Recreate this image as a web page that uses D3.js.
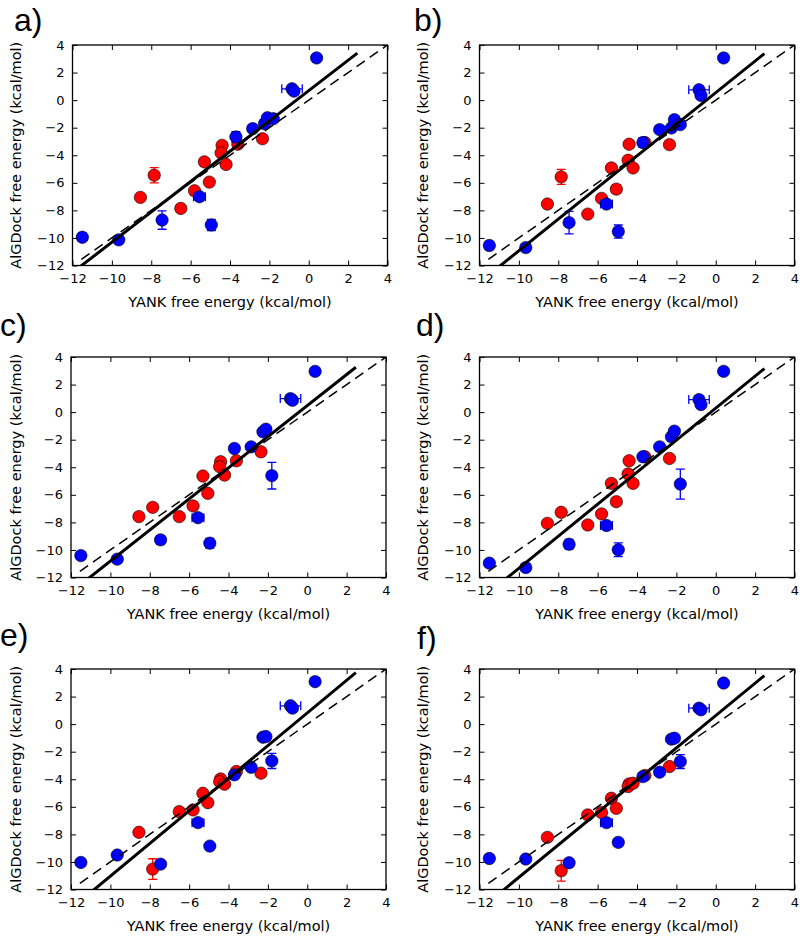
<!DOCTYPE html>
<html>
<head>
<meta charset="utf-8">
<script src="https://cdn.jsdelivr.net/npm/d3@7"></script>
<style>
  html, body { margin: 0; padding: 0; background: #ffffff; }
  svg { display: block; }
</style>
</head>
<body>
<script>
// ---------------- DATA ----------------
const panelNames = ["a", "b", "c", "d", "e", "f"];
const tickValues = [-12, -10, -8, -6, -4, -2, 0, 2, 4];
const xLabel = "YANK free energy (kcal/mol)";
const yLabel = "AlGDock free energy (kcal/mol)";

// YANK free energies (x) – shared by all panels
const blueX = [-11.5, -9.65, -7.45, -5.55, -4.95, -3.7, -2.85, -2.25, -2.1, -1.8, -0.85, -0.75, 0.4];
const blueXErr = [0, 0, 0, 0.3, 0, 0, 0, 0, 0, 0, 0.52, 0, 0];
const redX = [-8.55, -7.85, -6.5, -5.8, -5.3, -5.05, -4.4, -4.45, -4.2, -3.6, -2.35];

// AlGDock free energies (y) per panel
const blueY_a = [-9.95, -10.14, -8.70, -7.01, -9.06, -2.67, -2.07, -1.71, -1.28, -1.35, 0.82, 0.65, 3.06];
const blueY_b = [-10.55, -10.70, -8.89, -7.54, -9.54, -3.08, -2.14, -2.02, -1.42, -1.78, 0.75, 0.34, 3.06];
const blueY_c = [-10.41, -10.67, -9.27, -7.66, -9.51, -2.64, -2.52, -1.43, -1.24, -4.61, 0.98, 0.86, 2.96];
const blueY_d = [-10.96, -11.28, -9.59, -8.23, -9.99, -3.24, -2.52, -1.79, -1.38, -5.22, 0.91, 0.55, 2.96];
const blueY_e = [-10.04, -9.50, -10.16, -7.15, -8.85, -3.68, -3.13, -0.95, -0.90, -2.67, 1.33, 1.16, 3.08];
const blueY_f = [-9.75, -9.79, -10.06, -7.15, -8.58, -3.81, -3.49, -1.09, -1.02, -2.72, 1.16, 1.04, 2.98];

const blueErr_a = [0.3, 0.2, 0.67, 0.2, 0.4, 0.38, 0.1, 0.1, 0.1, 0.1, 0.1, 0.1, 0.1];
const blueErr_b = [0.3, 0.2, 0.82, 0.2, 0.48, 0.35, 0.1, 0.1, 0.1, 0.1, 0.1, 0.1, 0.1];
const blueErr_c = [0.2, 0.2, 0.3, 0.2, 0.35, 0.1, 0.1, 0.1, 0.1, 0.97, 0.1, 0.1, 0.1];
const blueErr_d = [0.2, 0.2, 0.35, 0.2, 0.5, 0.2, 0.1, 0.1, 0.1, 1.09, 0.1, 0.1, 0.1];
const blueErr_e = [0.2, 0.2, 0.2, 0.2, 0.2, 0.2, 0.1, 0.1, 0.1, 0.55, 0.1, 0.1, 0.1];
const blueErr_f = [0.2, 0.2, 0.2, 0.2, 0.2, 0.2, 0.1, 0.1, 0.1, 0.5, 0.1, 0.1, 0.1];

const redY_a = [-7.06, -5.45, -7.86, -6.58, -4.48, -5.95, -3.28, -3.83, -4.67, -3.20, -2.80];
const redY_b = [-7.54, -5.57, -8.27, -7.13, -4.92, -6.46, -3.20, -4.36, -4.92, -3.08, -3.23];
const redY_c = [-7.58, -6.91, -7.58, -6.81, -4.64, -5.89, -3.60, -3.96, -4.57, -3.53, -2.88];
const redY_d = [-8.07, -7.27, -8.19, -7.39, -5.17, -6.50, -3.53, -4.49, -5.17, -3.24, -3.36];
const redY_e = [-7.85, -10.52, -6.35, -6.23, -5.02, -5.70, -3.98, -4.17, -4.36, -3.44, -3.56];
const redY_f = [-8.22, -10.64, -6.59, -6.42, -5.38, -6.11, -4.34, -4.53, -4.29, -3.73, -3.08];

const redErr_a = [0.1, 0.55, 0.25, 0.1, 0.1, 0.1, 0.1, 0.1, 0.1, 0.1, 0.1];
const redErr_b = [0.1, 0.55, 0.1, 0.1, 0.1, 0.3, 0.1, 0.1, 0.1, 0.1, 0.1];
const redErr_c = [0.1, 0.1, 0.1, 0.1, 0.1, 0.1, 0.1, 0.1, 0.1, 0.1, 0.1];
const redErr_d = [0.1, 0.1, 0.1, 0.1, 0.1, 0.1, 0.1, 0.1, 0.1, 0.1, 0.1];
const redErr_e = [0.1, 0.75, 0.1, 0.1, 0.1, 0.1, 0.1, 0.1, 0.1, 0.1, 0.2];
const redErr_f = [0.1, 0.75, 0.1, 0.1, 0.1, 0.1, 0.1, 0.1, 0.1, 0.1, 0.1];

// regression line (solid) per panel
const fitSlope = [1.100, 1.147, 1.128, 1.162, 1.184, 1.174];
const fitIntercept = [0.69, 0.54, 0.47, 0.29, 0.81, 0.62];
const fitXRange = [-12.5, 2.47];
const identityXRange = [-11.55, 4];

const blueYs = [blueY_a, blueY_b, blueY_c, blueY_d, blueY_e, blueY_f];
const blueErrs = [blueErr_a, blueErr_b, blueErr_c, blueErr_d, blueErr_e, blueErr_f];
const redYs = [redY_a, redY_b, redY_c, redY_d, redY_e, redY_f];
const redErrs = [redErr_a, redErr_b, redErr_c, redErr_d, redErr_e, redErr_f];

// ---------------- LAYOUT ----------------
const W = 315, H = 220.5;
const panelLeft = [72.5, 479.5, 71, 479.5, 71, 479.5];
const panelTop = [45, 45, 357, 357, 669, 669];
const letterPos = [[14, 30.5], [414, 30.5], [0, 335.5], [416, 336], [0, 645.5], [417, 649]];
const ylabX = [21, 428, 21, 428, 21, 428];

const svg = d3.select("body").append("svg")
  .attr("width", 800).attr("height", 937)
  .style("font-family", "'DejaVu Sans', sans-serif");

const BLUE = "#0000ff", RED = "#ff0000";

panelNames.forEach((name, i) => {
  const L = panelLeft[i], T = panelTop[i];
  const x = d3.scaleLinear().domain([-12, 4]).range([L, L + W]);
  const y = d3.scaleLinear().domain([-12, 4]).range([T + H, T]);
  const g = svg.append("g");

  const clipId = "clip-" + name;
  svg.append("clipPath").attr("id", clipId)
    .append("rect").attr("x", L).attr("y", T).attr("width", W).attr("height", H);
  const plot = g.append("g").attr("clip-path", `url(#${clipId})`);

  const cap = 4.5;
  function drawSeries(xs, ys, yerrs, xerrs, color) {
    const pts = xs.map((xv, k) => ({ x: xv, y: ys[k], ye: yerrs[k], xe: xerrs ? xerrs[k] : 0 }));
    const eb = plot.append("g").attr("stroke", color).attr("stroke-width", 1.3).attr("fill", "none");
    pts.forEach(p => {
      if (p.ye > 0) {
        eb.append("line").attr("x1", x(p.x)).attr("x2", x(p.x)).attr("y1", y(p.y - p.ye)).attr("y2", y(p.y + p.ye));
        eb.append("line").attr("x1", x(p.x) - cap).attr("x2", x(p.x) + cap).attr("y1", y(p.y - p.ye)).attr("y2", y(p.y - p.ye));
        eb.append("line").attr("x1", x(p.x) - cap).attr("x2", x(p.x) + cap).attr("y1", y(p.y + p.ye)).attr("y2", y(p.y + p.ye));
      }
      if (p.xe > 0) {
        eb.append("line").attr("y1", y(p.y)).attr("y2", y(p.y)).attr("x1", x(p.x - p.xe)).attr("x2", x(p.x + p.xe));
        eb.append("line").attr("y1", y(p.y) - cap).attr("y2", y(p.y) + cap).attr("x1", x(p.x - p.xe)).attr("x2", x(p.x - p.xe));
        eb.append("line").attr("y1", y(p.y) - cap).attr("y2", y(p.y) + cap).attr("x1", x(p.x + p.xe)).attr("x2", x(p.x + p.xe));
      }
    });
    plot.append("g").selectAll("circle").data(pts).join("circle")
      .attr("cx", d => x(d.x)).attr("cy", d => y(d.y)).attr("r", 6.2)
      .attr("fill", color).attr("stroke", "#000").attr("stroke-width", 0.6);
  }
  drawSeries(redX, redYs[i], redErrs[i], null, RED);
  drawSeries(blueX, blueYs[i], blueErrs[i], blueXErr, BLUE);

  // identity (dashed) line
  const line = d3.line().x(d => x(d[0])).y(d => y(d[1]));
  plot.append("path")
    .attr("d", line(identityXRange.map(v => [v, v])))
    .attr("stroke", "#000").attr("stroke-width", 1.5).attr("fill", "none")
    .attr("stroke-dasharray", "10,6");
  // regression (solid) line
  plot.append("path")
    .attr("d", line(fitXRange.map(v => [v, fitSlope[i] * v + fitIntercept[i]])))
    .attr("stroke", "#000").attr("stroke-width", 3).attr("fill", "none");

  // axes with inward ticks on all four sides
  const styleAxis = sel => {
    sel.select(".domain").remove();
    sel.selectAll(".tick line").attr("stroke", "#000").attr("stroke-width", 1);
    sel.selectAll("text").attr("font-size", 13).attr("font-family", "'DejaVu Sans', sans-serif").attr("fill", "#000");
    sel.attr("font-size", null).attr("font-family", null);
  };
  g.append("g").attr("transform", `translate(0,${T + H})`)
    .call(d3.axisBottom(x).tickValues(tickValues).tickSizeInner(-5).tickSizeOuter(0).tickPadding(8))
    .call(styleAxis);
  g.append("g").attr("transform", `translate(0,${T})`)
    .call(d3.axisTop(x).tickValues(tickValues).tickSizeInner(-5).tickSizeOuter(0).tickFormat(""))
    .call(styleAxis);
  g.append("g").attr("transform", `translate(${L},0)`)
    .call(d3.axisLeft(y).tickValues(tickValues).tickSizeInner(-5).tickSizeOuter(0).tickPadding(8))
    .call(styleAxis);
  g.append("g").attr("transform", `translate(${L + W},0)`)
    .call(d3.axisRight(y).tickValues(tickValues).tickSizeInner(-5).tickSizeOuter(0).tickFormat(""))
    .call(styleAxis);

  // frame
  g.append("rect").attr("x", L).attr("y", T).attr("width", W).attr("height", H)
    .attr("fill", "none").attr("stroke", "#000").attr("stroke-width", 1.3);

  // axis labels
  g.append("text").attr("x", L + W / 2).attr("y", T + H + 41.5)
    .attr("text-anchor", "middle").attr("font-size", 14.5).text(xLabel);
  g.append("text")
    .attr("transform", `translate(${ylabX[i]},${T + H / 2}) rotate(-90)`)
    .attr("text-anchor", "middle").attr("font-size", 14.5).text(yLabel);

  // panel letter
  g.append("text").attr("x", letterPos[i][0]).attr("y", letterPos[i][1])
    .attr("font-family", "'Liberation Sans', Arial, sans-serif")
    .attr("font-size", 32).text(name + ")");
});
</script>
</body>
</html>
